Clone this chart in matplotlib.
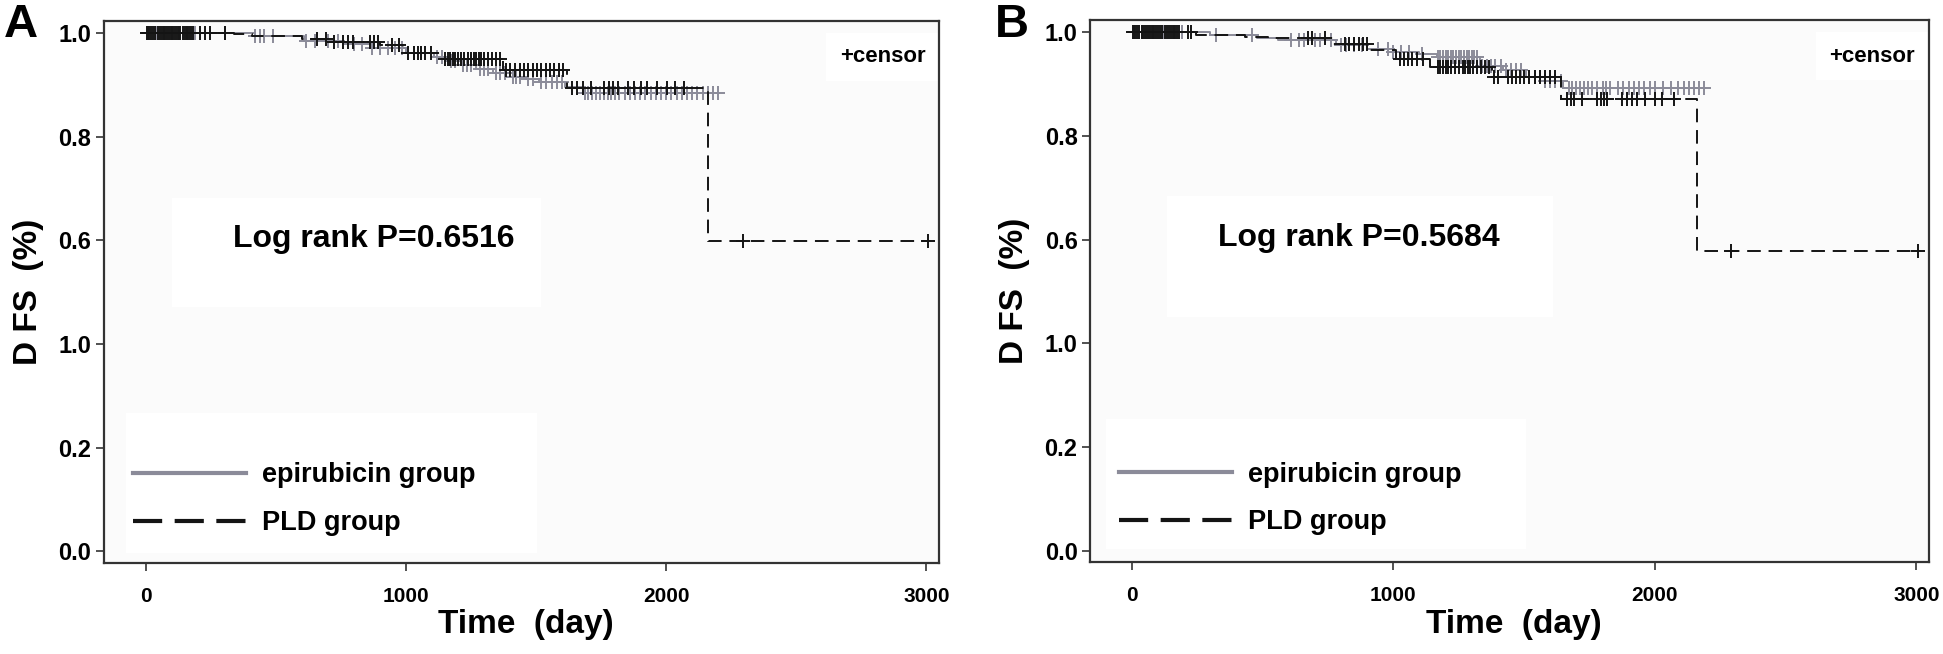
import numpy as np
import matplotlib
matplotlib.use('Agg')
import matplotlib.pyplot as plt
from matplotlib.lines import Line2D
from matplotlib.patches import Rectangle

plt.rcParams['font.family'] = ['Liberation Sans', 'DejaVu Sans']
plt.rcParams['font.weight'] = 'bold'

# ---------------- data ----------------
# panel A
pld_a_t = [0, 340, 408, 600, 700, 900, 990, 1134, 1372, 1618, 2159]
pld_a_s = [1.0, 0.997, 0.994, 0.988, 0.982, 0.976, 0.962, 0.950, 0.928, 0.894, 0.599]
pld_a_end = 3006
pld_a_cens = [5, 14, 22, 30, 38, 46, 54, 62, 70, 78, 86, 94, 102, 110, 118, 126, 134, 142,
              150, 158, 166, 174, 182, 208, 227, 246, 306, 660, 692, 722, 760, 778, 798,
              862, 878, 892, 945, 975, 1010, 1030, 1045, 1060, 1075, 1096,
              1150, 1160, 1170, 1180, 1190, 1200, 1210, 1225, 1240, 1250, 1260, 1270, 1280,
              1290, 1300, 1315, 1330, 1345, 1360,
              1385, 1400, 1420, 1440, 1455, 1470, 1490, 1505, 1520, 1540, 1555, 1570, 1590, 1605,
              1637, 1656, 1682, 1713, 1762, 1781, 1796, 1815, 1853, 1875, 1902, 1928, 1966,
              2004, 2035, 2070, 2295, 3006]

epi_a_t = [0, 420, 610, 760, 870, 1000, 1108, 1160, 1210, 1270, 1334, 1399, 1460, 1512, 1611, 1680]
epi_a_s = [1.0, 0.993, 0.985, 0.978, 0.970, 0.962, 0.953, 0.946, 0.938, 0.930, 0.922, 0.915,
           0.910, 0.905, 0.896, 0.883]
epi_a_end = 2200
epi_a_cens = [10, 40, 70, 100, 130, 160, 190, 306, 420, 439, 454, 491, 616, 650, 700, 740,
              800, 830, 870, 900, 930, 960, 985, 1030, 1060,
              1120, 1140, 1175, 1190, 1220, 1235, 1250, 1285, 1300, 1315, 1345, 1360, 1380,
              1410, 1425, 1440, 1470, 1490, 1520, 1540, 1560, 1580, 1600,
              1690, 1700, 1715, 1730, 1745, 1760, 1775, 1790, 1805, 1820, 1840, 1860, 1880,
              1900, 1920, 1940, 1960, 1980, 2000, 2020, 2040, 2060, 2080, 2100, 2120, 2140,
              2160, 2180, 2200]

# panel B
pld_b_t = [0, 244, 434, 520, 769, 910, 1010, 1139, 1379, 1642, 2160]
pld_b_s = [1.0, 0.994, 0.991, 0.988, 0.978, 0.965, 0.948, 0.932, 0.913, 0.871, 0.577]
pld_b_end = 3005
pld_b_cens = [5, 13, 21, 29, 37, 45, 53, 61, 69, 77, 85, 93, 101, 109, 117, 125, 133, 141,
              149, 157, 165, 173, 181, 213, 225, 674, 689, 739, 815, 830, 850, 870, 885, 900,
              1025, 1040, 1055, 1070, 1090, 1112,
              1170, 1180, 1190, 1200, 1210, 1220, 1235, 1250, 1265, 1275, 1285, 1295, 1305,
              1320, 1335, 1350, 1365,
              1385, 1400, 1440, 1455, 1470, 1485, 1500, 1520, 1540, 1560, 1580, 1600, 1620,
              1666, 1679, 1691, 1723, 1780, 1793, 1806, 1818, 1875, 1894, 1913, 1932, 1964,
              2002, 2027, 2072, 2290, 3005]

epi_b_t = [0, 300, 480, 560, 780, 900, 1000, 1100, 1166, 1330, 1420, 1508, 1580, 1650]
epi_b_s = [1.0, 0.994, 0.988, 0.984, 0.975, 0.968, 0.962, 0.958, 0.952, 0.935, 0.927, 0.913,
           0.905, 0.893]
epi_b_end = 2187
epi_b_cens = [10, 40, 80, 120, 160, 190, 320, 461, 610, 640, 660, 700, 720, 760, 800, 820,
              850, 880, 940, 980, 1000, 1030, 1060, 1110,
              1170, 1180, 1190, 1200, 1210, 1220, 1230, 1240, 1250, 1260, 1270, 1280, 1290,
              1300, 1310, 1320, 1340, 1360, 1375, 1390, 1410, 1430, 1450, 1470, 1490,
              1520, 1540, 1560, 1580, 1600, 1620, 1640,
              1670, 1685, 1700, 1715, 1730, 1745, 1760, 1780, 1800, 1815, 1830, 1860, 1880,
              1900, 1920, 1940, 1960, 1980, 2000, 2030, 2060, 2090, 2110, 2130, 2150, 2170, 2187]

pvals = ['0.6516', '0.5684']
ytick_vals = [0.0, 0.2, 0.4, 0.6, 0.8, 1.0]
ytick_labels = ['0.0', '0.2', '1.0', '0.6', '0.8', '1.0']
xtick_vals = [0, 1000, 2000, 3000]

GRAY = '#8b8b99'
BLACK = '#141414'
DASH = (0, (7, 4))


def km(ax, t, s, end, cens, color, ls, z):
    t = np.asarray(t, float)
    s = np.asarray(s, float)
    tt = np.append(t, end)
    ss = np.append(s, s[-1])
    ax.step(tt, ss, where='post', color=color, lw=1.4, linestyle=ls, zorder=z)
    c = np.asarray(cens, float)
    idx = np.searchsorted(t, c, side='right') - 1
    ax.plot(c, s[idx], linestyle='none', marker='+', ms=10, mew=1.4, color=color, zorder=z)


fig = plt.figure(figsize=(19.43, 6.54), dpi=100)
axA = fig.add_axes([0.0535, 0.139, 0.430, 0.829])
axB = fig.add_axes([0.561, 0.140, 0.432, 0.829])

# white boxes (axes fractions): log rank box, legend box
panels = [
    (axA, (epi_a_t, epi_a_s, epi_a_end, epi_a_cens), (pld_a_t, pld_a_s, pld_a_end, pld_a_cens),
     pvals[0], (0.081, 0.472, 0.442, 0.201), (0.026, 0.018, 0.492, 0.259), 0.323),
    (axB, (epi_b_t, epi_b_s, epi_b_end, epi_b_cens), (pld_b_t, pld_b_s, pld_b_end, pld_b_cens),
     pvals[1], (0.092, 0.452, 0.460, 0.223), (0.019, 0.024, 0.500, 0.240), 0.320),
]

for ax, epi, pld, p, lrbox, legbox, lrx in panels:
    ax.set_facecolor('#fbfbfb')
    km(ax, *epi, GRAY, '-', 3)
    km(ax, *pld, BLACK, DASH, 4)

    ax.set_xlim(-160, 3050)
    ax.set_ylim(-0.023, 1.023)
    ax.set_yticks(ytick_vals)
    ax.set_yticklabels(ytick_labels)
    ax.set_xticks(xtick_vals)
    ax.tick_params(axis='both', length=6, width=1.2, color='#333333')
    ax.tick_params(axis='x', pad=11, labelsize=15)
    ax.tick_params(axis='y', pad=3, labelsize=17)
    for sp in ax.spines.values():
        sp.set_linewidth(1.6)
        sp.set_color('#333333')

    ax.set_xlabel('Time  (day)', fontsize=24, fontweight='bold')
    ax.set_ylabel('D FS  (%)', fontsize=24, fontweight='bold')
    ax.xaxis.set_label_coords(0.505, -0.085)
    ax.yaxis.set_label_coords(-0.072, 0.5)

    for b in (lrbox, legbox):
        ax.add_patch(Rectangle(b[:2], b[2], b[3], transform=ax.transAxes,
                               facecolor='white', edgecolor='none', zorder=1))

    ax.text(lrx, 0.598, 'Log rank P=' + p, transform=ax.transAxes, fontsize=23,
            fontweight='bold', ha='center', va='center', zorder=2)
    ax.text(0.932, 0.934, '+censor', transform=ax.transAxes, fontsize=16,
            fontweight='bold', ha='center', va='center', zorder=2,
            bbox=dict(boxstyle='square,pad=0.6', facecolor='white', edgecolor='none'))

    handles = [Line2D([], [], color=GRAY, lw=3),
               Line2D([], [], color=BLACK, lw=3, linestyle=(0, (7, 3)))]
    leg = ax.legend(handles, ['epirubicin group', 'PLD group'], loc='lower left',
                    bbox_to_anchor=(0.035, 0.050), borderaxespad=0, borderpad=0, fontsize=19.5,
                    handlelength=4.15, handletextpad=0.6, labelspacing=0.8,
                    frameon=False)
    for txt in leg.get_texts():
        txt.set_fontweight('bold')

fig.text(0.002, 0.995, 'A', fontsize=34, fontweight='bold', va='top', ha='left')
fig.text(0.512, 0.995, 'B', fontsize=34, fontweight='bold', va='top', ha='left')

fig.savefig('out.png', dpi=100, facecolor='white')
